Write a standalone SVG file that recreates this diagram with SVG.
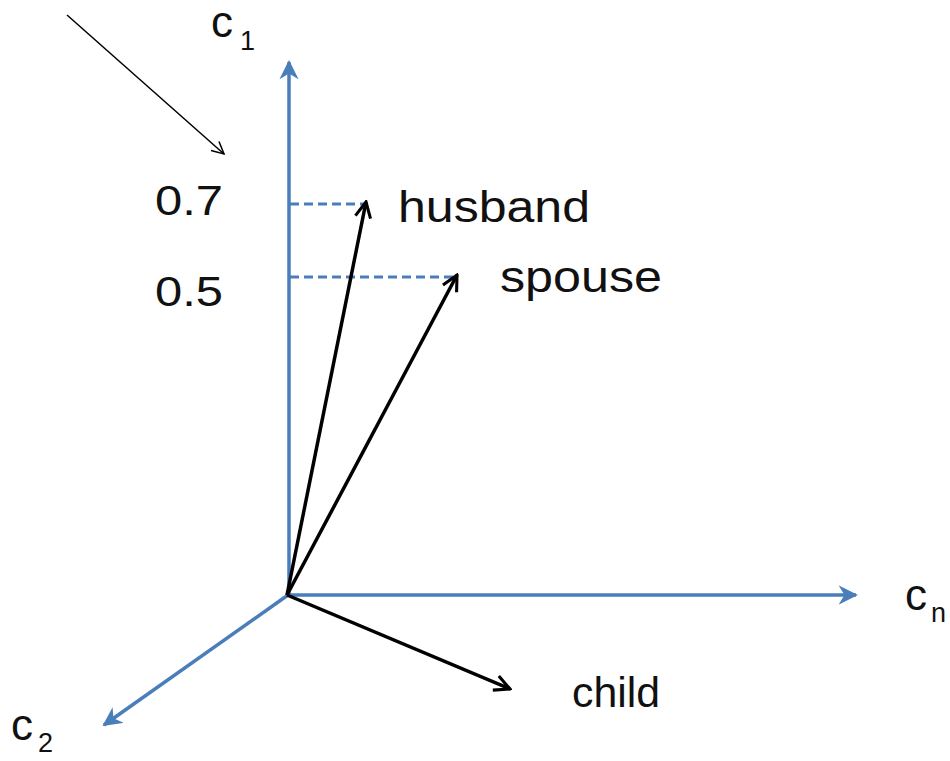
<svg xmlns="http://www.w3.org/2000/svg" width="950" height="761" viewBox="0 0 950 761">
<defs>
<style>
.t{font-family:"Liberation Sans",Arial,sans-serif;fill:#111;}
.axis{stroke:#4a7ebb;stroke-width:3.5;fill:none;}
.vec{stroke:#000;stroke-width:3.5;fill:none;}
.dash{stroke:#4a7ebb;stroke-width:3.2;stroke-dasharray:9 5;fill:none;}
</style>
<marker id="ab" viewBox="0 0 10 10" refX="9" refY="5" markerWidth="5.5" markerHeight="5.5" orient="auto" markerUnits="strokeWidth">
<path d="M0,0 L10,5 L0,10 L3,5 Z" fill="#4a7ebb"/>
</marker>
<marker id="vb" viewBox="0 0 10 10" refX="9" refY="5" markerWidth="5.5" markerHeight="5.5" orient="auto" markerUnits="strokeWidth">
<path d="M1,1 L9,5 L1,9" fill="none" stroke="#000" stroke-width="1.6" stroke-linejoin="miter"/>
</marker>
<marker id="vt" viewBox="0 0 10 10" refX="9" refY="5" markerWidth="10" markerHeight="10" orient="auto" markerUnits="strokeWidth">
<path d="M1,1 L9,5 L1,9" fill="none" stroke="#000" stroke-width="1"/>
</marker>
</defs>
<rect width="950" height="761" fill="#fff"/>
<g id="connectors">
<line class="dash" x1="290" y1="204" x2="365" y2="204"/>
<line class="dash" x1="290" y1="277" x2="454" y2="277"/>
<line class="axis" x1="289" y1="595" x2="289" y2="62" marker-end="url(#ab)"/>
<line class="axis" x1="287" y1="595" x2="856" y2="595" marker-end="url(#ab)"/>
<line class="axis" x1="288" y1="595" x2="104" y2="725" marker-end="url(#ab)"/>
<line class="vec" x1="287" y1="595" x2="366" y2="202" marker-end="url(#vb)"/>
<line class="vec" x1="287" y1="595" x2="457" y2="275" marker-end="url(#vb)"/>
<line class="vec" x1="287" y1="595" x2="510" y2="689" marker-end="url(#vb)"/>
<line x1="67" y1="15" x2="224" y2="154" stroke="#000" stroke-width="1.5" marker-end="url(#vt)"/>
</g>
<g id="c1"><text class="t" x="211" y="37" font-size="44">c</text><text class="t" x="240" y="50" font-size="27">1</text></g>
<g id="cn"><text class="t" x="905" y="610" font-size="44">c</text><text class="t" x="931" y="622" font-size="27">n</text></g>
<g id="c2"><text class="t" x="11" y="740" font-size="44">c</text><text class="t" x="38" y="752" font-size="27">2</text></g>
<g id="v07"><text class="t" x="155" y="215" font-size="42" textLength="68" lengthAdjust="spacingAndGlyphs">0.7</text></g>
<g id="v05"><text class="t" x="155" y="306" font-size="42" textLength="68" lengthAdjust="spacingAndGlyphs">0.5</text></g>
<g id="husband"><text class="t" x="398" y="222" font-size="44" textLength="192" lengthAdjust="spacingAndGlyphs">husband</text></g>
<g id="spouse"><text class="t" x="500" y="292" font-size="44" textLength="162" lengthAdjust="spacingAndGlyphs">spouse</text></g>
<g id="child"><text class="t" x="572" y="707" font-size="43" textLength="88" lengthAdjust="spacingAndGlyphs">child</text></g>
</svg>
